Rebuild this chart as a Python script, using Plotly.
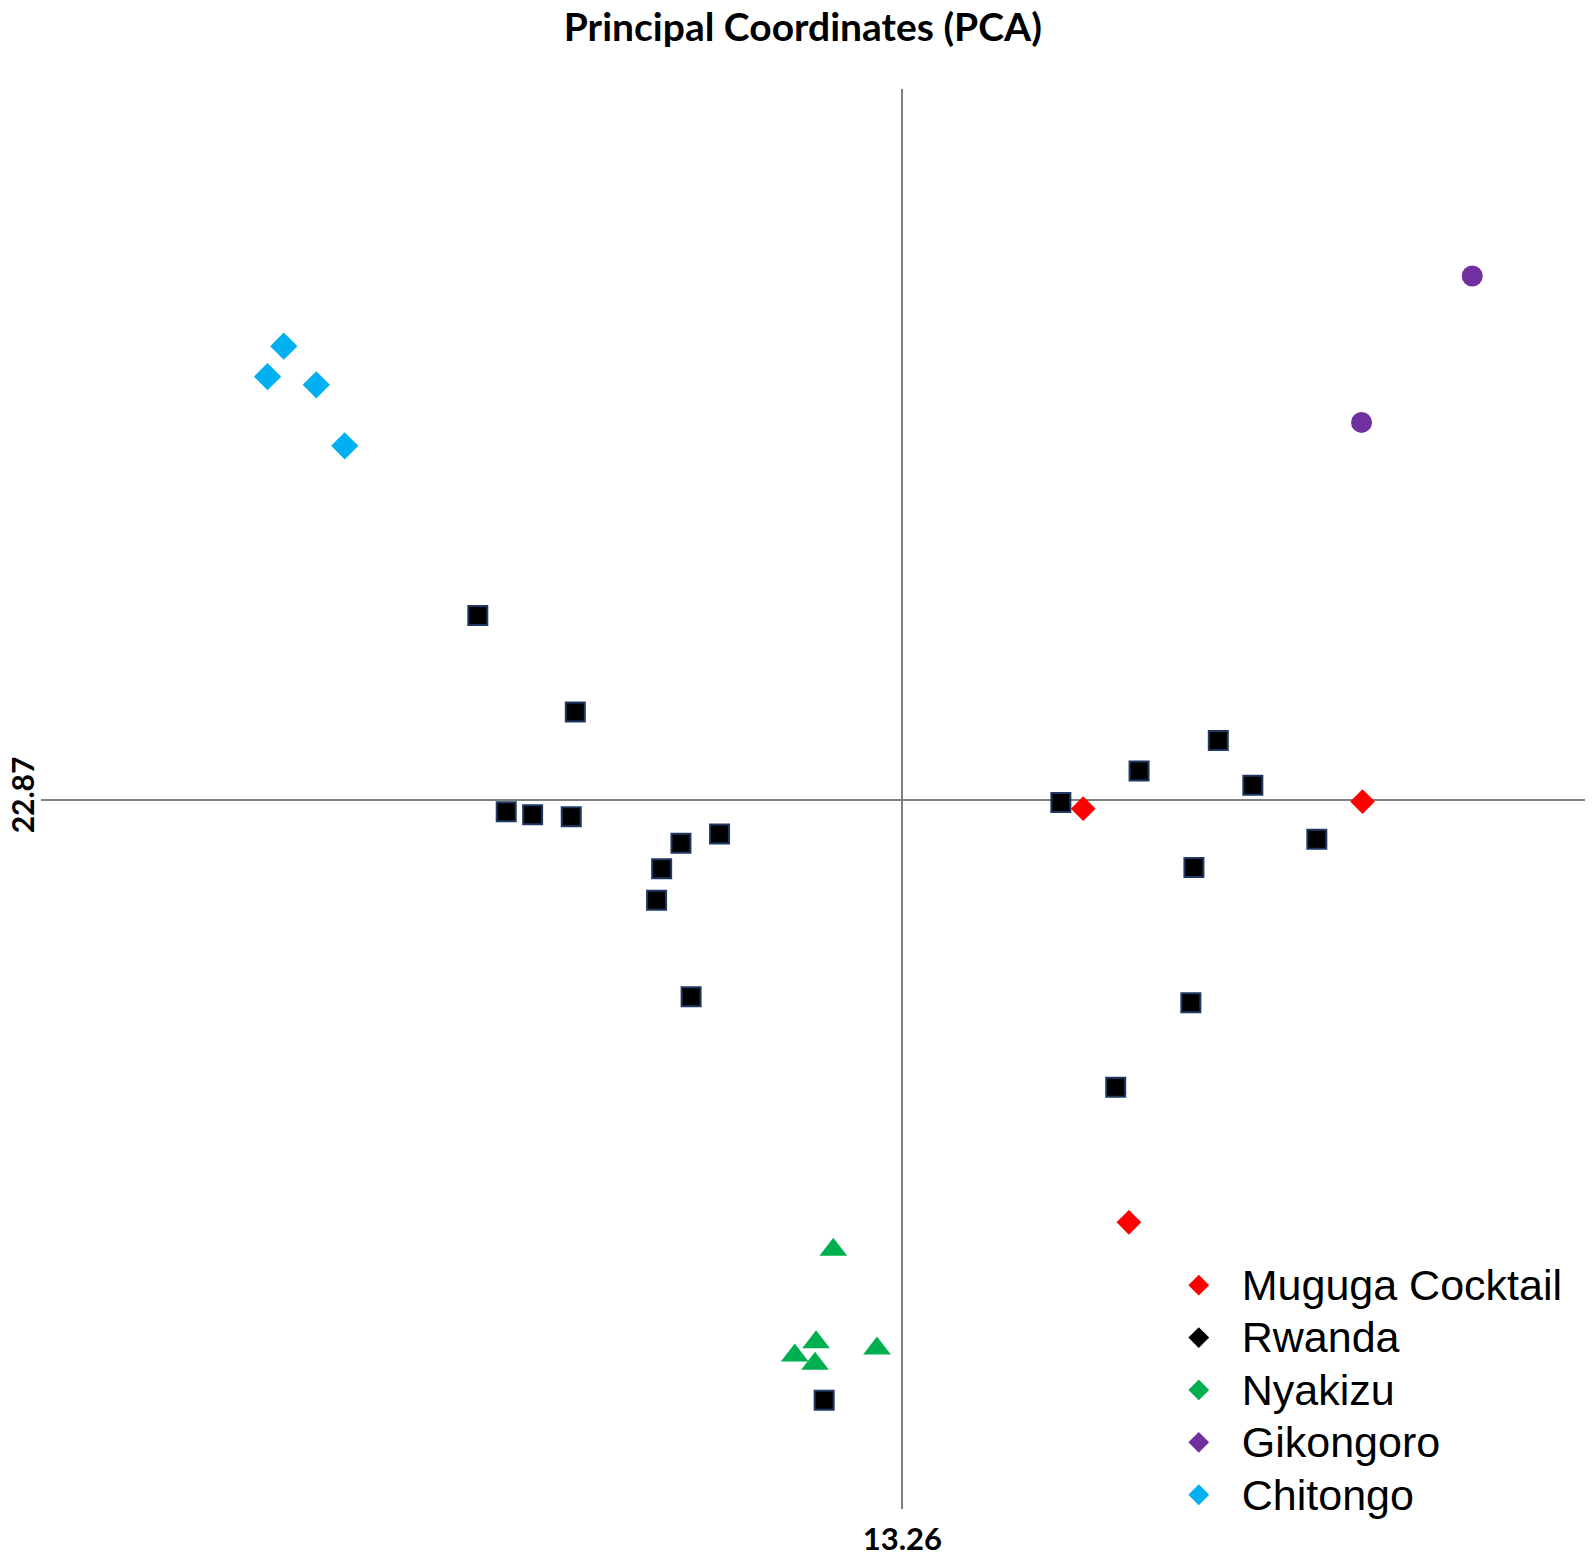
import plotly.graph_objects as go

# Data (arbitrary PCA units; axes cross at 0)
chitongo_x = [-6.09, -6.25, -5.77, -5.49]
chitongo_y = [4.46, 4.16, 4.08, 3.48]

gikongoro_x = [5.61, 4.52]
gikongoro_y = [5.15, 3.71]

muguga_x = [1.78, 4.53, 2.23]
muguga_y = [-0.09, -0.02, -4.16]

nyakizu_x = [-0.68, -0.85, -1.06, -0.86, -0.25]
nyakizu_y = [-4.43, -5.34, -5.47, -5.55, -5.40]

rwanda_x = [-4.18, -3.22, -3.90, -3.64, -3.26, -2.18, -1.80, -2.37, -2.42, -2.08,
            -0.77, 1.56, 2.33, 3.11, 3.45, 4.08, 2.87, 2.84, 2.10]
rwanda_y = [1.81, 0.86, -0.12, -0.15, -0.17, -0.43, -0.34, -0.68, -0.99, -1.94,
            -5.91, -0.03, 0.28, 0.58, 0.14, -0.39, -0.67, -2.00, -2.83]

legend_names = ["Muguga Cocktail", "Rwanda", "Nyakizu", "Gikongoro", "Chitongo"]
legend_colors = ["#FF0000", "#000000", "#00B050", "#7030A0", "#00B0F0"]

x_tick_label = "13.26"
y_tick_label = "22.87"

fig = go.Figure()

fig.add_trace(go.Scatter(x=rwanda_x, y=rwanda_y, mode="markers", showlegend=False,
                         marker=dict(symbol="square", size=19, color="#000000",
                                     line=dict(color="#1F3864", width=2))))
fig.add_trace(go.Scatter(x=muguga_x, y=muguga_y, mode="markers", showlegend=False,
                         marker=dict(symbol="diamond", size=19, color="#FF0000", line=dict(width=0))))
fig.add_trace(go.Scatter(x=nyakizu_x, y=nyakizu_y, mode="markers", showlegend=False,
                         marker=dict(symbol="triangle-up", size=24, color="#00B050", line=dict(width=0))))
fig.add_trace(go.Scatter(x=gikongoro_x, y=gikongoro_y, mode="markers", showlegend=False,
                         marker=dict(symbol="circle", size=21, color="#7030A0", line=dict(width=0))))
fig.add_trace(go.Scatter(x=chitongo_x, y=chitongo_y, mode="markers", showlegend=False,
                         marker=dict(symbol="diamond", size=21, color="#00B0F0", line=dict(width=0))))

for name, col in zip(legend_names, legend_colors):
    fig.add_trace(go.Scatter(x=[None], y=[None], mode="markers",
                             name='<span style="font-size:43px">' + name + "</span>",
                             marker=dict(symbol="diamond", size=22, color=col, line=dict(width=0))))

fig.update_layout(
    width=1577, height=1544,
    margin=dict(l=33, r=0, t=81, b=43, autoexpand=False),
    paper_bgcolor="white", plot_bgcolor="white",
    title=dict(text="<b>Principal Coordinates (PCA)</b>", x=0.504, xref="container",
               xanchor="center", y=1 - 19 / 1544, yref="container", yanchor="middle",
               font=dict(family="Lato", size=39, color="#000000")),
    xaxis=dict(range=[-8.48, 6.72], showgrid=False, zeroline=True, zerolinecolor="#808080",
               zerolinewidth=2, showline=False, tickvals=[0], ticktext=["<b>" + x_tick_label + "</b>"],
               ticks="", ticklabelstandoff=9, automargin=False,
               tickfont=dict(family="Lato", size=31, color="#000000")),
    yaxis=dict(range=[-6.98, 6.99], showgrid=False, zeroline=True, zerolinecolor="#808080",
               zerolinewidth=2, showline=False, tickvals=[0], ticktext=["<b>" + y_tick_label + "</b>"],
               ticks="", tickangle=-90, ticklabelstandoff=0, automargin=False,
               tickfont=dict(family="Lato", size=30, color="#000000")),
    legend=dict(x=0.722, y=0.1796, xanchor="left", yanchor="top", bgcolor="rgba(0,0,0,0)",
                font=dict(family="Liberation Sans", size=38, color="#000000"),
                itemwidth=76, tracegroupgap=0),
    showlegend=True,
)

fig.write_html("out.html")
